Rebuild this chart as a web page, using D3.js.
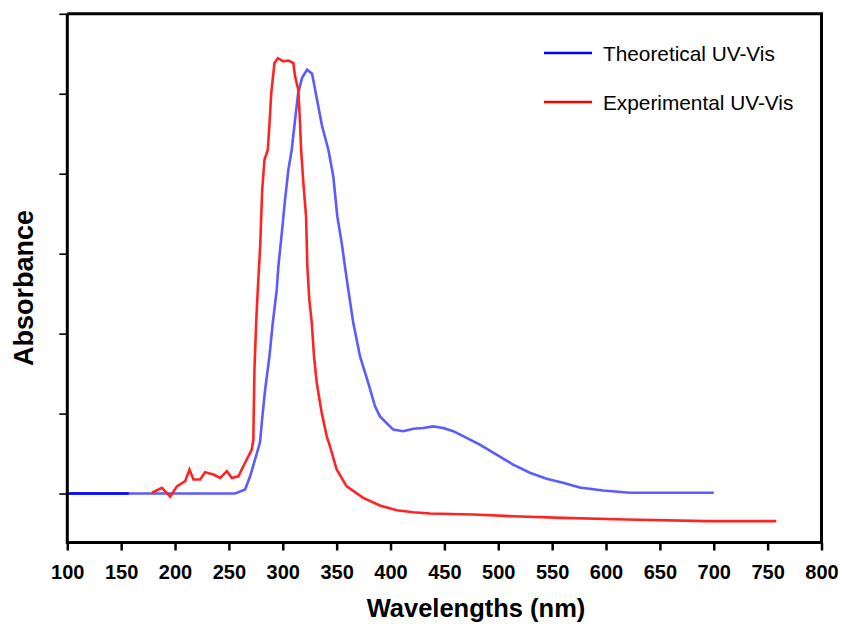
<!DOCTYPE html>
<html>
<head>
<meta charset="utf-8">
<script src="https://cdn.jsdelivr.net/npm/d3@7"></script>
<style>
    body { margin: 0; background: #fff; }
    svg { display: block; }
    .tick-label { font-family: Arial, "Liberation Sans", sans-serif; font-weight: bold; font-size: 20px; fill: #000; }
</style>
</head>
<body>
<div id="chart"></div>
<script>
// theoretical UV-Vis (wavelength nm, absorbance a.u.)
const theoWl = [100, 150, 157, 200, 255.8, 265, 269.7, 278.9, 280.5, 283.6, 287.6, 290.7, 294.4, 295.9, 299.1, 302.1, 305.2, 308.3, 311.4, 314.2, 317.9, 322.5, 327.2, 331.8, 336.4, 342.3, 346.9, 350.6, 354.7, 357.7, 360.8, 365.4, 371.7, 379.3, 385.6, 390.2, 402.5, 411.8, 421.1, 430.3, 439.6, 448.9, 458.2, 470.6, 482.9, 498.4, 513.8, 529.3, 544.8, 560.1, 575.6, 597.2, 622, 700];
const theoAbs = [0, 0, 0, 0, 0, 0.01, 0.043, 0.128, 0.177, 0.26, 0.343, 0.427, 0.51, 0.568, 0.652, 0.735, 0.81, 0.86, 0.935, 1.0, 1.04, 1.06, 1.05, 0.985, 0.92, 0.86, 0.793, 0.693, 0.627, 0.568, 0.51, 0.427, 0.343, 0.277, 0.218, 0.193, 0.16, 0.156, 0.162, 0.164, 0.168, 0.164, 0.156, 0.139, 0.1225, 0.0975, 0.0725, 0.052, 0.037, 0.027, 0.015, 0.0075, 0.002, 0.002];

// experimental UV-Vis
const expWl = [178.5, 187.8, 195.5, 201.7, 209.4, 213.4, 217.1, 223.3, 227.9, 235.6, 241.9, 248.1, 252.7, 258.8, 265, 271.2, 272.7, 272.8, 273.7, 275.3, 276.8, 279, 280.9, 283, 286.1, 287.7, 289.3, 292.3, 295.4, 300.5, 305.2, 309.8, 311.4, 314.4, 316, 317, 319.1, 321.6, 322.8, 324.6, 326.9, 329, 331.5, 336.1, 340.8, 343.8, 350, 359.3, 374.7, 390.2, 405.7, 421.1, 436.6, 476.7, 513.8, 560.1, 618.9, 693.1, 758];
const expAbs = [0.002, 0.014, -0.008, 0.018, 0.031, 0.06, 0.035, 0.035, 0.053, 0.0475, 0.039, 0.056, 0.039, 0.043, 0.077, 0.11, 0.135, 0.16, 0.31, 0.4275, 0.51, 0.618, 0.76, 0.835, 0.86, 0.927, 1.002, 1.077, 1.089, 1.081, 1.083, 1.077, 1.043, 1.01, 0.927, 0.86, 0.777, 0.693, 0.568, 0.485, 0.427, 0.343, 0.277, 0.202, 0.143, 0.118, 0.06, 0.018, -0.011, -0.03, -0.042, -0.047, -0.05, -0.0525, -0.057, -0.061, -0.065, -0.069, -0.069];

const xTicks = d3.range(100, 801, 50);
const yTicks = [0, 0.2, 0.4, 0.6, 0.8, 1.0, 1.2];
const legendNames = ["Theoretical UV-Vis", "Experimental UV-Vis"];
const legendColors = ["#0000ff", "#ff0000"];

const width = 841, height = 624;
const plotLeft = 67.3, plotRight = 821.5, plotTop = 13.8, plotBottom = 542.5;

const svg = d3.select("#chart").append("svg")
    .attr("width", width)
    .attr("height", height);

const x = d3.scaleLinear().domain([100, 800]).range([plotLeft, plotRight]);
const y = d3.scaleLinear().domain([-0.1225, 1.2]).range([plotBottom, plotTop]);

// lines
const line = d3.line().x(d => x(d[0])).y(d => y(d[1]));

svg.append("path")
    .datum(d3.zip(theoWl, theoAbs))
    .attr("fill", "none")
    .attr("stroke", "#5b5bff")
    .attr("stroke-width", 2.6)
    .attr("d", line);

// the flat start of the theoretical trace is drawn darker in the original
svg.append("path")
    .datum(d3.zip(theoWl, theoAbs).filter(d => d[0] <= 157))
    .attr("fill", "none")
    .attr("stroke", "#0000ff")
    .attr("stroke-width", 2.6)
    .attr("d", line);

svg.append("path")
    .datum(d3.zip(expWl, expAbs))
    .attr("fill", "none")
    .attr("stroke", "#ff2424")
    .attr("stroke-width", 2.6)
    .attr("d", line);

// x axis
const xAxis = svg.append("g")
    .attr("transform", `translate(0,${plotBottom})`)
    .call(d3.axisBottom(x).tickValues(xTicks).tickSize(8).tickPadding(14).tickFormat(d3.format("d")));
xAxis.select(".domain").remove();
xAxis.selectAll("line").attr("stroke", "#000").attr("stroke-width", 2.5);
xAxis.selectAll("text").attr("class", "tick-label").attr("font-family", null).attr("font-size", null);

// y axis ticks only, no labels
const yAxis = svg.append("g")
    .attr("transform", `translate(${plotLeft},0)`)
    .call(d3.axisLeft(y).tickValues(yTicks).tickSize(8).tickFormat(""));
yAxis.select(".domain").remove();
yAxis.selectAll("line").attr("stroke", "#000").attr("stroke-width", 1.6);

// frame
svg.append("path")
    .attr("d", `M${plotLeft},${plotTop}V${plotBottom}H${plotRight}V${plotTop}H${plotLeft}`)
    .attr("fill", "none")
    .attr("stroke", "#000")
    .attr("stroke-width", 3);

// axis titles
svg.append("text")
    .attr("x", (367 + 585) / 2)
    .attr("y", 617)
    .attr("text-anchor", "middle")
    .style("font-family", "Arial, 'Liberation Sans', sans-serif")
    .style("font-weight", "bold")
    .style("font-size", "25.5px")
    .text("Wavelengths (nm)");

svg.append("text")
    .attr("transform", "translate(33,288) rotate(-90)")
    .attr("text-anchor", "middle")
    .style("font-family", "Arial, 'Liberation Sans', sans-serif")
    .style("font-weight", "bold")
    .style("font-size", "27px")
    .text("Absorbance");

// legend
const legend = svg.append("g")
    .selectAll("g")
    .data(legendNames)
    .join("g")
    .attr("transform", (d, i) => `translate(544,${53 + i * 49})`);

legend.append("line")
    .attr("x1", 0).attr("x2", 48)
    .attr("stroke", (d, i) => legendColors[i])
    .attr("stroke-width", 2.6);

legend.append("text")
    .attr("x", 59)
    .attr("dy", "0.36em")
    .style("font-family", "Arial, 'Liberation Sans', sans-serif")
    .style("font-size", "20.8px")
    .text(d => d);
</script>
</body>
</html>
